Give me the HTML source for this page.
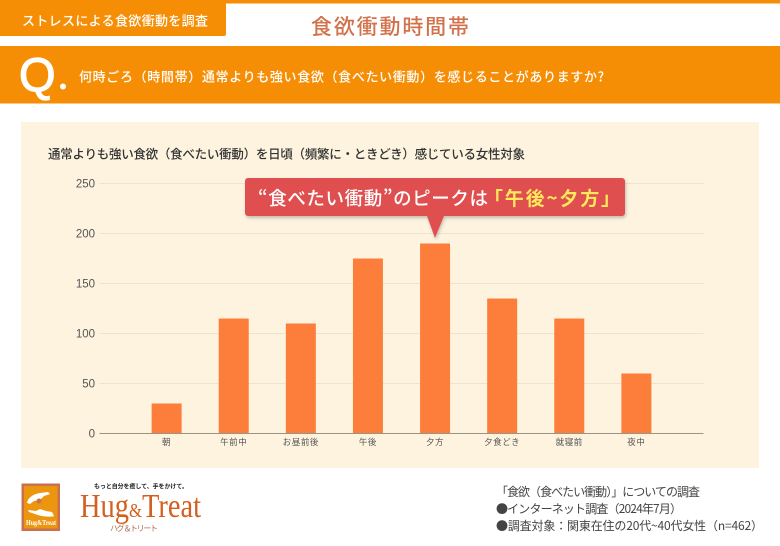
<!DOCTYPE html>
<html lang="ja">
<head>
<meta charset="utf-8">
<title>食欲衝動時間帯</title>
<style>
html,body{margin:0;padding:0;background:#fff;}
body{width:780px;height:546px;overflow:hidden;}
svg{display:block;}
text{font-family:"Liberation Sans","Noto Sans CJK JP",sans-serif;}
.jp{font-family:"Noto Sans CJK JP",sans-serif;}
</style>
</head>
<body>
<svg id="page" xmlns="http://www.w3.org/2000/svg" width="780" height="546" viewBox="0 0 780 546">
  <defs>
    <filter id="sh" x="-5%" y="-20%" width="110%" height="150%">
      <feDropShadow dx="1" dy="2" stdDeviation="1.5" flood-color="#000" flood-opacity="0.22"/>
    </filter>
  </defs>
  <rect width="780" height="546" fill="#fff"/>
  <rect width="780" height="3.5" fill="#f68e05"/>
  <path d="M0 0H226V34a2 2 0 0 1-2 2H0Z" fill="#f68e05"/>
  <text class="jp" x="22" y="25.5" font-size="13" font-weight="500" fill="#fff" textLength="186" lengthAdjust="spacing">ストレスによる食欲衝動を調査</text>
  <text class="jp" x="311" y="34" font-size="21" font-weight="500" fill="#d2714a" textLength="158" lengthAdjust="spacing">食欲衝動時間帯</text>

  <rect y="46" width="780" height="57.5" fill="#f68e05"/>
  <text x="19" y="91" font-size="47" fill="#fff" stroke="#fff" stroke-width="1.2" style="font-family:'Liberation Sans',sans-serif">Q</text>
  <circle cx="63" cy="86.5" r="3" fill="#fff"/>
  <text class="jp" x="79" y="81.5" font-size="13" font-weight="500" fill="#fff" textLength="525" lengthAdjust="spacing">何時ごろ（時間帯）通常よりも強い食欲（食べたい衝動）を感じることがありますか?</text>

  <rect x="21" y="122" width="738" height="346" fill="#fdf3df"/>
  <text class="jp" x="48" y="158.5" font-size="12.5" font-weight="500" fill="#333" textLength="477" lengthAdjust="spacing">通常よりも強い食欲（食べたい衝動）を日頃（頻繁に・ときどき）感じている女性対象</text>

  <g id="chart"></g>

  <g>
    <path filter="url(#sh)" fill="#e05050" d="M248 178H622a3 3 0 0 1 3 3V213a3 3 0 0 1-3 3H444L435 238L427 216H248a3 3 0 0 1-3-3V181a3 3 0 0 1 3-3Z"/>
    <text class="jp" x="258" y="205" font-size="18.5" font-weight="500" fill="#fff" textLength="230" lengthAdjust="spacing">“食べたい衝動”のピークは</text>
    <text class="jp" x="484" y="205" font-size="19" font-weight="700" fill="#fde95a" textLength="136" lengthAdjust="spacing">「午後~夕方」</text>
  </g>

  <g>
    <rect x="21.5" y="483.5" width="38.5" height="47.5" fill="#c9704f"/>
    <rect x="24" y="486" width="33.5" height="42.5" fill="#ec960f"/>
    <path d="M27 503c1-6 7-9 13-10l8-1 2 2-6 2-4 4-6 1-4 3Z" fill="#fff"/>
    <path d="M54 516c-1 1-11 1-16-1l-9-3-1-2 8 1 4-2 6 2 6 1 2 4Z" fill="#fff"/>
    <circle cx="39" cy="501" r="2.5" fill="#c9704f"/>
    <text x="26" y="525" font-size="7" font-weight="700" fill="#fff" textLength="30" lengthAdjust="spacingAndGlyphs" style="font-family:'Liberation Serif',serif">Hug&amp;Treat</text>
    <text class="jp" x="94" y="488.5" font-size="6" font-weight="700" fill="#222" textLength="94" lengthAdjust="spacing">もっと自分を癒して、手をかけて。</text>
    <text x="80" y="517" font-size="34" fill="#d4601f" textLength="121" lengthAdjust="spacingAndGlyphs" style="font-family:'Liberation Serif',serif">Hug<tspan font-size="20">&amp;</tspan>Treat</text>
    <text class="jp" x="110" y="531" font-size="8" fill="#a87050" textLength="48" lengthAdjust="spacing">ハグ＆トリート</text>
  </g>

  <g fill="#444" font-size="12">
    <text class="jp" x="496" y="496" textLength="204" lengthAdjust="spacing">「食欲（食べたい衝動）」についての調査</text>
    <text class="jp" x="496" y="513" textLength="186" lengthAdjust="spacing">●インターネット調査（2024年7月）</text>
    <text class="jp" x="496" y="530" textLength="267" lengthAdjust="spacing">●調査対象：関東在住の20代~40代女性（n=462）</text>
  </g>
</svg>
<script>
const categories = ['朝', '午前中', 'お昼前後', '午後', '夕方', '夕食どき', '就寝前', '夜中'];
const seriesValues = [30, 115, 110, 175, 190, 135, 115, 60];
const yTicks = [0, 50, 100, 150, 200, 250];

const NS = 'http://www.w3.org/2000/svg';
const plot = { left: 99.5, right: 703.5, top: 183.5, bottom: 433.5, yMax: 250, barWidth: 30 };
const chart = document.getElementById('chart');

function yScale(v) {
  return plot.bottom - (v / plot.yMax) * (plot.bottom - plot.top);
}
function xScale(i) {
  const step = (plot.right - plot.left) / (categories.length + 1);
  return plot.left + step * (i + 1);
}
function make(tag, attrs, text) {
  const el = document.createElementNS(NS, tag);
  for (const k in attrs) el.setAttribute(k, attrs[k]);
  if (text !== undefined) el.textContent = text;
  chart.appendChild(el);
  return el;
}

yTicks.forEach(function (t) {
  if (t !== 0) {
    const grid = make('line', { x1: plot.left, x2: plot.right, y1: yScale(t), y2: yScale(t), stroke: '#eee3cf', 'stroke-width': 1 });
    
    
  }
  const label = make('text', { x: 95, y: yScale(t) + 4, 'text-anchor': 'end', 'font-size': 11.5, fill: '#555' }, String(t));
  
  
});

seriesValues.forEach(function (v, i) {
  const bar = make('rect', { x: xScale(i) - plot.barWidth / 2, y: yScale(v), width: plot.barWidth, height: plot.bottom - yScale(v), fill: '#fd7e3b' });
  
  
  const label = make('text', { x: xScale(i), y: 445, 'text-anchor': 'middle', 'font-size': 8.5, fill: '#555', 'letter-spacing': 0.6 }, categories[i]);
  
  
});

const axis = make('line', { x1: plot.left, x2: plot.right, y1: plot.bottom, y2: plot.bottom, stroke: '#9a9484', 'stroke-width': 1 });


</script>
</body>
</html>
